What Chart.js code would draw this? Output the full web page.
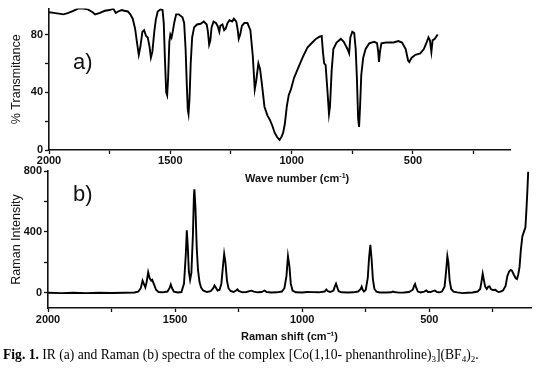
<!DOCTYPE html>
<html><head><meta charset="utf-8">
<script src="https://cdn.jsdelivr.net/npm/chart.js@4"></script>
<style>
html,body{margin:0;padding:0;background:#fff;}
#wrap{position:relative;width:536px;height:372px;overflow:hidden;background:#fff;}
canvas{position:absolute;left:0;top:0;}
.lbl{position:absolute;font-family:"Liberation Sans",Arial,sans-serif;color:#111;white-space:nowrap;line-height:1;}
.lbl sup{font-size:7px;vertical-align:4px;line-height:0;}
#cap{position:absolute;left:3px;top:348px;font-family:"Liberation Serif","Times New Roman",serif;font-size:13.6px;line-height:1;color:#000;white-space:nowrap;}
#cap sub{font-size:9px;vertical-align:-3px;line-height:0;}
</style></head>
<body><div id="wrap">
<canvas id="ir" width="536" height="372"></canvas>
<canvas id="raman" width="536" height="372"></canvas>
<div class="lbl" style="left:73px;top:51px;font-size:22px;">a)</div>
<div class="lbl" style="left:73px;top:183px;font-size:22px;">b)</div>
<div class="lbl" style="left:245px;top:173px;font-size:11px;font-weight:bold;">Wave number (cm<sup>-1</sup>)</div>
<div id="cap"><b>Fig. 1.</b> IR (a) and Raman (b) spectra of the complex [Co(1,10- phenanthroline)<sub>3</sub>](BF<sub>4</sub>)<sub>2</sub>.</div>
</div>
<script>
// ---- IR spectrum (panel a) ----
const irWavenumber = [2000,1980,1960,1940,1920,1900,1880,1860,1840,1820,1810,1790,1770,1750,1735,1725,1715,1700,1690,1675,1665,1655,1645,1637,1630,1623,1615,1608,1600,1593,1586,1580,1574,1566,1560,1552,1540,1532,1527,1522,1517,1513,1509,1504,1500,1495,1490,1484,1476,1465,1450,1443,1437,1432,1428,1425,1421,1416,1410,1402,1390,1375,1362,1350,1345,1340,1335,1330,1322,1312,1305,1298,1294,1285,1278,1272,1264,1256,1245,1238,1228,1222,1218,1212,1205,1195,1182,1170,1160,1152,1146,1137,1130,1122,1112,1100,1090,1080,1070,1060,1050,1042,1035,1028,1020,1012,1003,990,975,955,935,915,900,885,876,871,866,860,852,846,842,835,828,815,797,785,770,763,758,750,742,736,731,726,722,718,713,705,695,680,660,648,643,640,636,630,610,580,560,545,530,520,515,505,490,470,455,445,436,430,424,419,410,398];
const irTransmittance = [95.5,95,94.5,94,95,96.5,98,98,97.5,95.5,94,95,96.5,97,98,95,96,97,96.5,96,94,91,84,74,66,72,82,83,79,78,72,64,68,82,90,96,97.5,97,88,62,40,38,50,75,80,78,82,88,94,94,92,88,70,45,28,25,35,60,78,85,87,87.5,89,87,82,73,76,85,89,88,86,82,86,87,83,84,88,90,89,91,89,83,77,80,86,88,88,83,65,42,48,60,56,45,30,24,21,17,12,9,7,9,12,18,30,38,42,50,56,64,71,74.5,77,78.5,79,68,60,59,40,25,30,55,70,74.5,77,75,70,67,78,82,81,70,50,22,16,30,52,64,70,74,75,74,68,61,68,74,74.5,74.5,75.5,74.5,70,62,61,64,66,67,70,74,78,76,68,76,77,80];

// ---- Raman spectrum (panel b) ----
const ramanShift = [2000,1950,1900,1850,1800,1750,1700,1660,1645,1635,1628,1622,1617,1612,1606,1600,1594,1590,1583,1575,1565,1550,1530,1522,1517,1512,1505,1490,1475,1465,1458,1454,1450,1446,1441,1436,1430,1426,1424,1420,1415,1410,1404,1398,1390,1375,1360,1350,1345,1340,1333,1325,1318,1312,1307,1302,1296,1290,1282,1270,1260,1255,1250,1235,1220,1200,1190,1175,1160,1148,1140,1120,1100,1080,1070,1062,1056,1050,1045,1038,1025,1000,980,960,935,912,905,899,890,877,872,867,862,857,845,820,800,780,770,766,762,757,750,742,737,732,727,722,716,708,695,670,650,643,638,620,600,580,565,560,556,552,545,535,520,512,505,495,484,478,470,460,450,440,434,429,425,420,414,405,390,370,350,330,310,300,295,290,285,280,274,268,263,258,250,240,235,228,220,210,200,193,186,180,175,168,160,155,150,145,140,134,128,122,118,114,111];
const ramanIntensity = [0,-2,0,-2,0,-1,0,2,8,30,80,55,35,70,135,95,80,85,55,20,5,3,8,30,55,30,8,2,5,60,250,410,300,140,85,130,380,640,680,560,300,150,70,35,15,5,10,30,48,35,15,20,60,170,255,200,80,30,12,5,15,22,12,3,5,14,8,3,5,15,5,2,3,8,30,110,240,170,60,15,3,2,5,4,3,8,22,10,5,15,40,60,35,10,3,2,3,8,25,40,20,8,20,100,230,315,220,90,25,8,2,2,3,8,5,1,2,5,20,45,58,35,8,2,8,15,5,5,12,15,5,3,8,40,140,240,200,80,25,8,3,-2,0,2,8,25,70,125,80,40,25,40,42,25,18,20,12,5,8,15,45,110,140,150,145,120,95,90,120,170,280,370,400,430,544,680,795];

// ---- axes ----
const irXTicks = [2000,1750,1500,1250,1000,750,500,250];
const irXLabels = [2000,1500,1000,500];
const irYTicks = [0,20,40,60,80];
const irYLabels = [0,40,80];
const ramanXTicks = [2000,1750,1500,1250,1000,750,500,250];
const ramanXLabels = [2000,1500,1000,500];
const ramanYTicks = [0,200,400,600,800];
const ramanYLabels = [0,400,800];

const FAM = '"Liberation Sans", Arial, sans-serif';
const tickFont = {family: FAM, size: 11, weight: 'bold'};
const INK = '#111';

function gridOpts(){
  return {display:true, drawOnChartArea:false, drawTicks:true, tickLength:4, tickColor:INK, tickWidth:1.3};
}
function xAxis(min, max, ticks, labels, height, title, pad){
  return {
    type:'linear', reverse:true, min:min, max:max, position:'bottom',
    afterBuildTicks: s => { s.ticks = ticks.map(v => ({value:v})); },
    afterFit: s => { s.height = height; },
    ticks:{autoSkip:false, maxRotation:0, minRotation:0, padding:pad, color:INK, font:tickFont,
      callback: v => labels.includes(v) ? String(v) : ''},
    grid: gridOpts(),
    border:{display:true, color:INK, width:1.6},
    title: title ? {display:true, text:title, color:INK, font:{family:FAM, size:11, weight:'bold'}, padding:{top:0, bottom:4}} : {display:false}
  };
}
function yAxis(min, max, ticks, labels, width, title){
  return {
    type:'linear', min:min, max:max, position:'left',
    afterBuildTicks: s => { s.ticks = ticks.map(v => ({value:v})); },
    afterFit: s => { s.width = width; },
    ticks:{autoSkip:false, padding:2, color:INK, font:tickFont,
      callback: v => labels.includes(v) ? String(v) : ''},
    grid: gridOpts(),
    border:{display:true, color:INK, width:1.6},
    title:{display:true, text:title, color:INK, font:{family:FAM, size:12.5}, padding:{top:9, bottom:0}}
  };
}
function makeChart(id, xs, ys, xScale, yScale, padding){
  return new Chart(document.getElementById(id), {
    type:'line',
    data:{datasets:[{
      data: xs.map((x, i) => ({x:x, y:ys[i]})),
      borderColor:'#000', borderWidth:1.9, pointRadius:0, tension:0, fill:false
    }]},
    options:{
      responsive:false, animation:false, devicePixelRatio:1,
      layout:{padding:padding},
      plugins:{legend:{display:false}, tooltip:{enabled:false}},
      scales:{x:xScale, y:yScale}
    }
  });
}

makeChart('ir', irWavenumber, irTransmittance,
  xAxis(100, 2000, irXTicks, irXLabels, 20, null, 0),
  yAxis(0, 98, irYTicks, irYLabels, 49, '% Transmitance'),
  {left:0, right:26, top:6, bottom:202});

makeChart('raman', ramanShift, ramanIntensity,
  xAxis(100, 2000, ramanXTicks, ramanXLabels, 40, 'Raman shift (cm\u207B\u00B9)', 1),
  yAxis(-100, 800, ramanYTicks, ramanYLabels, 48, 'Raman Intensity'),
  {left:0, right:5, top:171, bottom:24});
</script>
</body></html>
